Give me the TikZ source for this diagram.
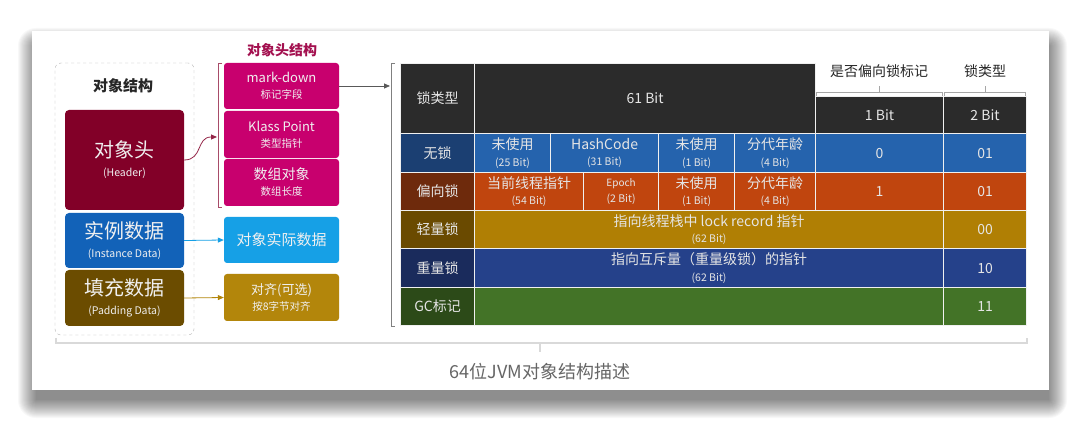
\documentclass[tikz,border=0pt]{standalone}
\usepackage{fontspec}
\setmainfont{Noto Sans CJK SC}
\usetikzlibrary{arrows.meta}

\definecolor{hdrred}{HTML}{820028}
\definecolor{instblue}{HTML}{1262B8}
\definecolor{padbrown}{HTML}{6B4C00}
\definecolor{headpink}{HTML}{C8006E}
\definecolor{datablue}{HTML}{16A0E6}
\definecolor{aligngold}{HTML}{B3860B}
\definecolor{titlepink}{HTML}{A3104F}
\definecolor{tabhead}{HTML}{2B2B2B}
\definecolor{nolockA}{HTML}{1B3F72}
\definecolor{nolockB}{HTML}{2563AD}
\definecolor{biasA}{HTML}{6E2A0C}
\definecolor{biasB}{HTML}{C0450E}
\definecolor{lightA}{HTML}{6A4A00}
\definecolor{lightB}{HTML}{B07F04}
\definecolor{heavyA}{HTML}{1A2B5C}
\definecolor{heavyB}{HTML}{25418A}
\definecolor{gcA}{HTML}{2C4A18}
\definecolor{gcB}{HTML}{437327}

\newcommand\fsz[1]{\fontsize{#1}{#1}\selectfont}
\newcommand\twoline[2]{#1\\{\fsz{10.5}#2}}

\begin{document}
\begin{tikzpicture}[x=1pt, y=-1pt,
  objbox/.style={rounded corners=4pt, inner sep=0pt, text=white!94!black, align=center,
    minimum width=119pt, font=\fontsize{20}{19}\selectfont},
  partbox/.style={rounded corners=3pt, inner sep=0pt, text=white!94!black, align=center,
    minimum width=115pt, font=\fontsize{13}{16}\selectfont},
  cell/.style={draw=white!88!gray, line width=1.2pt, inner sep=0pt, anchor=north west,
    align=center, text=white!90!black, font=\fontsize{14}{16.5}\selectfont},
  link/.style={line width=0.8pt, -{Triangle[length=6pt, width=5pt]}},
  brk/.style={line width=0.8pt}]
\useasboundingbox (0,0) rectangle (1080,422);
\fill[white] (0,0) rectangle (1080,422);

% card with soft shadow
\foreach \r in {0,...,18}
  \fill[black, opacity=0.026, rounded corners=\r pt] (36-\r,46-\r) rectangle (1049+\r,400+\r);
\fill[white] (32,31) rectangle (1049,390);

% object layout
\node[draw=gray!60, dashed, rounded corners=6pt, minimum width=139pt, minimum height=272pt] (objframe) at (124.5,199) {};
\node[font=\bfseries\fontsize{15}{16}\selectfont, text=black!85] (objtitle) at (123,86) {对象结构};
\node[objbox, fill=hdrred, minimum height=100pt] (hdr) at (124.5,160) {对象头\\{\fsz{10.5}(Header)}};
\node[objbox, fill=instblue, minimum height=55pt] (inst) at (124.5,240.5) {实例数据\\{\fsz{10.5}(Instance Data)}};
\node[objbox, fill=padbrown, minimum height=56pt] (pad) at (124.5,298) {填充数据\\{\fsz{10.5}(Padding Data)}};

% header parts
\node[font=\bfseries\fontsize{14}{16}\selectfont, text=titlepink] (parttitle) at (282,50) {对象头结构};
\node[partbox, fill=headpink, minimum height=46pt] (markd) at (281.5,86) {mark-down\\{\fsz{10.5}标记字段}};
\node[partbox, fill=headpink, minimum height=47pt] (klass) at (281.5,134.5) {Klass Point\\{\fsz{10.5}类型指针}};
\node[partbox, fill=headpink, minimum height=47pt, font=\fontsize{14}{16}\selectfont] (arrlen) at (281.5,182.5) {数组对象\\{\fsz{10.5}数组长度}};
\node[partbox, fill=datablue, minimum height=46pt, font=\fontsize{15}{16}\selectfont] (realdata) at (281.5,240) {对象实际数据};
\node[partbox, fill=aligngold, minimum height=47pt] (padalign) at (281.5,297.5) {对齐(可选)\\{\fsz{10.5}按8字节对齐}};

\draw[brk, hdrred!70] (222,63) -- (218,63) -- (218,207) -- (222,207);
\draw[brk, gray] (395,63) -- (391,63) -- (391,326) -- (395,326);
\coordinate (hbrk) at (217,137);
\coordinate (tbrk) at (390,86);
\draw[link, hdrred!85] (hdr.east) .. controls (203,160) and (196,137) .. (hbrk);
\draw[link, datablue] (inst.east) -- (realdata.west);
\draw[link, aligngold] (pad.east) -- (padalign.west);
\draw[link, black!65] (markd.east) -- (tbrk);

% table header
\node[cell, fill=tabhead, minimum width=74pt, minimum height=70pt] (tType) at (400,63) {锁类型};
\node[cell, fill=tabhead, minimum width=341pt, minimum height=70pt] (t61) at (474,63) {61 Bit};
\node[cell, fill=tabhead, minimum width=128pt, minimum height=37pt] (t1bit) at (815,96) {1 Bit};
\node[cell, fill=tabhead, minimum width=83pt, minimum height=37pt] (t2bit) at (943,96) {2 Bit};
\node[font=\fontsize{14}{16}\selectfont, text=black!85] (biaslbl) at (879,71) {是否偏向锁标记};
\node[font=\fontsize{14}{16}\selectfont, text=black!85] (typelbl) at (985,71) {锁类型};
\draw[brk, gray!70] (816,96) -- (816,92) -- (942,92) -- (942,96) (879,92) -- (879,86);
\draw[brk, gray!70] (944,96) -- (944,92) -- (1025,92) -- (1025,96) (985,92) -- (985,86);

% no lock
\node[cell, fill=nolockA, minimum width=74pt, minimum height=39pt] (nolock) at (400,133) {无锁};
\node[cell, fill=nolockB, minimum width=76pt, minimum height=39pt] (nl1) at (474,133) {\twoline{未使用}{(25 Bit)}};
\node[cell, fill=nolockB, minimum width=108pt, minimum height=39pt] (nl2) at (550,133) {\twoline{HashCode}{(31 Bit)}};
\node[cell, fill=nolockB, minimum width=76pt, minimum height=39pt] (nl3) at (658,133) {\twoline{未使用}{(1 Bit)}};
\node[cell, fill=nolockB, minimum width=81pt, minimum height=39pt] (nl4) at (734,133) {\twoline{分代年龄}{(4 Bit)}};
\node[cell, fill=nolockB, minimum width=128pt, minimum height=39pt] (nl5) at (815,133) {0};
\node[cell, fill=nolockB, minimum width=83pt, minimum height=39pt] (nl6) at (943,133) {01};

% biased lock
\node[cell, fill=biasA, minimum width=74pt, minimum height=38pt] (bias) at (400,172) {偏向锁};
\node[cell, fill=biasB, minimum width=109pt, minimum height=38pt] (bl1) at (474,172) {\twoline{当前线程指针}{(54 Bit)}};
\node[cell, fill=biasB, minimum width=75pt, minimum height=38pt] (bl2) at (583,172) {\twoline{\fsz{10}Epoch}{(2 Bit)}};
\node[cell, fill=biasB, minimum width=76pt, minimum height=38pt] (bl3) at (658,172) {\twoline{未使用}{(1 Bit)}};
\node[cell, fill=biasB, minimum width=81pt, minimum height=38pt] (bl4) at (734,172) {\twoline{分代年龄}{(4 Bit)}};
\node[cell, fill=biasB, minimum width=128pt, minimum height=38pt] (bl5) at (815,172) {1};
\node[cell, fill=biasB, minimum width=83pt, minimum height=38pt] (bl6) at (943,172) {01};

% light lock
\node[cell, fill=lightA, minimum width=74pt, minimum height=38pt] (light) at (400,210) {轻量锁};
\node[cell, fill=lightB, minimum width=469pt, minimum height=38pt] (ll1) at (474,210) {\twoline{指向线程栈中 lock record 指针}{(62 Bit)}};
\node[cell, fill=lightB, minimum width=83pt, minimum height=38pt] (ll2) at (943,210) {00};

% heavy lock
\node[cell, fill=heavyA, minimum width=74pt, minimum height=39pt] (heavy) at (400,248) {重量锁};
\node[cell, fill=heavyB, minimum width=469pt, minimum height=39pt] (hl1) at (474,248) {\twoline{指向互斥量（重量级锁）的指针}{(62 Bit)}};
\node[cell, fill=heavyB, minimum width=83pt, minimum height=39pt] (hl2) at (943,248) {10};

% gc mark
\node[cell, fill=gcA, minimum width=74pt, minimum height=38pt] (gcmark) at (400,287) {GC标记};
\node[cell, fill=gcB, minimum width=469pt, minimum height=38pt] (gl1) at (474,287) {};
\node[cell, fill=gcB, minimum width=83pt, minimum height=38pt] (gl2) at (943,287) {11};

% caption
\draw[gray!30, line width=1.5pt] (56,338) -- (56,343) -- (1027,343) -- (1027,338) (540,343) -- (540,352);
\node[font=\fontsize{18}{20}\selectfont, text=black!60] (caption) at (540,372) {64位JVM对象结构描述};
\end{tikzpicture}
\end{document}
